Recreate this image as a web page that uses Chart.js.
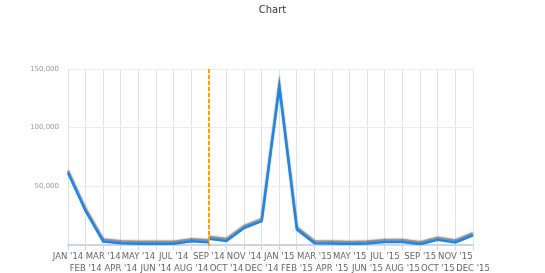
<!DOCTYPE html>
<html>
<head>
<meta charset="utf-8">
<script src="https://cdn.jsdelivr.net/npm/chart.js@4/dist/chart.umd.min.js"></script>
<style>
  html, body { margin: 0; padding: 0; background: #fff; }
  #wrap { width: 545px; height: 273px; position: relative; }
</style>
</head>
<body>
<div id="wrap"><canvas id="c"></canvas></div>
<script>
const categories = ["JAN '14","FEB '14","MAR '14","APR '14","MAY '14","JUN '14","JUL '14","AUG '14","SEP '14","OCT '14","NOV '14","DEC '14",
                    "JAN '15","FEB '15","MAR '15","APR '15","MAY '15","JUN '15","JUL '15","AUG '15","SEP '15","OCT '15","NOV '15","DEC '15"];
const seriesBefore = [61500, 29000, 2900, 1400, 1100, 1000, 1000, 3100, 2300,
                      null, null, null, null, null, null, null, null, null, null, null, null, null, null, null];
const seriesAfter  = [null, null, null, null, null, null, null, null, 5300,
                      3500, 14500, 20400, 135000, 13200, 1500, 1300, 900, 1300, 2600, 2600, 700, 4400, 2200, 8300];
const yTicks = [0, 50000, 100000, 150000];
const markerCategory = "SEP '14";

const lineColor = '#1f86e8';

const shadowPlugin = {
  id: 'lineShadow',
  beforeDatasetDraw(chart) {
    const ctx = chart.ctx;
    ctx.save();
    ctx.shadowColor = 'rgba(0,0,0,0.5)';
    ctx.shadowBlur = 1.5;
    ctx.shadowOffsetX = 0;
    ctx.shadowOffsetY = -2;
  },
  afterDatasetDraw(chart) {
    chart.ctx.restore();
  }
};

const markerPlugin = {
  id: 'marker',
  afterDatasetsDraw(chart) {
    const xs = chart.scales.x;
    const area = chart.chartArea;
    const x = Math.round(xs.getPixelForValue(categories.indexOf(markerCategory)));
    const ctx = chart.ctx;
    ctx.save();
    ctx.strokeStyle = '#ffa000';
    ctx.lineWidth = 2;
    ctx.setLineDash([4, 2]);
    ctx.beginPath();
    ctx.moveTo(x, area.top);
    ctx.lineTo(x, area.bottom + 1);
    ctx.stroke();
    ctx.restore();
  }
};

new Chart(document.getElementById('c'), {
  type: 'line',
  data: {
    labels: categories,
    datasets: [
      { data: seriesBefore, borderColor: lineColor, borderWidth: 2.5, pointRadius: 0, tension: 0, fill: false, spanGaps: false },
      { data: seriesAfter,  borderColor: lineColor, borderWidth: 2.5, pointRadius: 0, tension: 0, fill: false, spanGaps: false }
    ]
  },
  options: {
    responsive: true,
    maintainAspectRatio: false,
    animation: false,
    layout: { padding: { left: 0, right: 0, top: 0, bottom: 0 } },
    plugins: {
      legend: { display: false },
      tooltip: { enabled: false },
      title: {
        display: true,
        text: 'Chart',
        color: '#333',
        font: { family: 'DejaVu Sans', size: 10, weight: 'normal' },
        padding: { top: 4, bottom: 53 }
      }
    },
    scales: {
      x: {
        type: 'category',
        offset: false,
        grid: { color: '#dfe4eb', lineWidth: 1, drawTicks: true, tickLength: 5, tickColor: '#ccd6eb' },
        border: { display: true, color: '#ccd6eb', width: 2 },
        ticks: {
          autoSkip: false,
          maxRotation: 0,
          minRotation: 0,
          padding: 1,
          color: '#666',
          font: { family: 'DejaVu Sans', size: 8.5, lineHeight: 1.4 },
          callback: function(v, i) {
            const lab = categories[i];
            return i % 2 === 0 ? lab : ['', lab];
          }
        },
        afterFit(scale) { scale.height = 28; }
      },
      y: {
        min: 0,
        max: 150000,
        afterBuildTicks(scale) { scale.ticks = yTicks.map(v => ({ value: v })); },
        grid: { color: '#ececec', drawTicks: false },
        border: { display: false },
        ticks: {
          padding: 9,
          color: '#999',
          font: { family: 'DejaVu Sans', size: 7 },
          callback: v => v === 0 ? '' : v.toLocaleString('en-US')
        },
        afterFit(scale) { scale.width = 68; }
      },
      yRight: {
        position: 'right',
        display: true,
        grid: { display: false, drawTicks: false },
        border: { display: false },
        ticks: { display: false },
        afterFit(scale) { scale.width = 72; }
      }
    }
  },
  plugins: [shadowPlugin, markerPlugin]
});
</script>
</body>
</html>
